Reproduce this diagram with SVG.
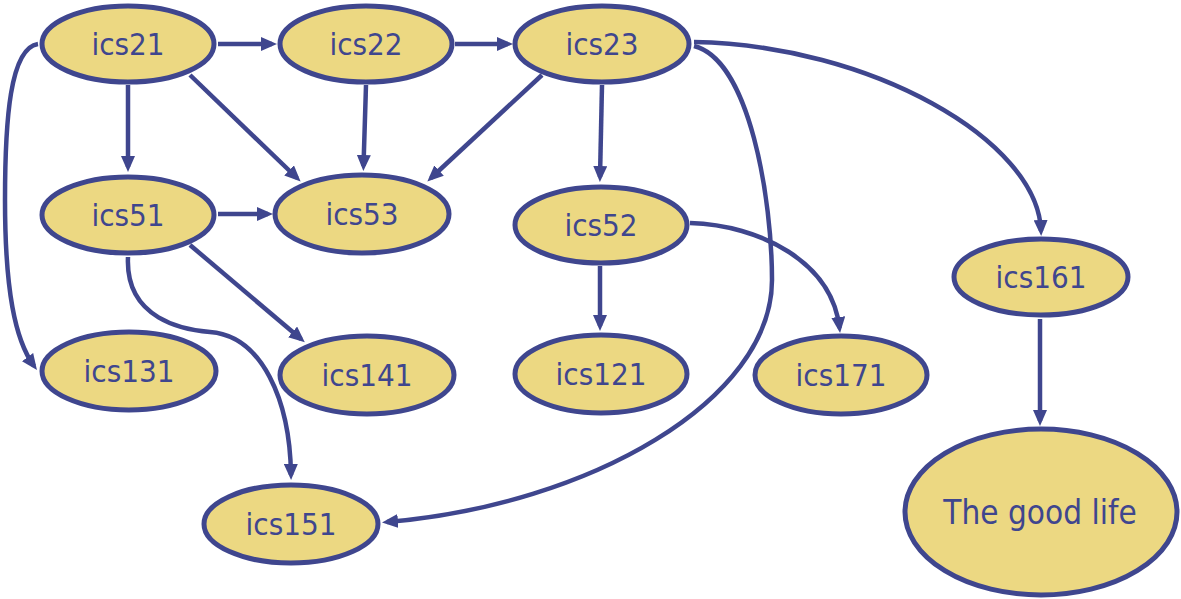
<svg xmlns="http://www.w3.org/2000/svg" width="1181" height="599" viewBox="0 0 1181 599">
<style>
.n ellipse{fill:#ECD882;stroke:#3F468E;stroke-width:5}
.n text{font-family:"DejaVu Sans Condensed","DejaVu Sans",sans-serif;font-size:31px;fill:#3F468E;text-anchor:middle}
.e path{fill:none;stroke:#3F468E;stroke-width:4.5;marker-end:url(#ah)}
</style>
<defs>
<marker id="ah" viewBox="0 0 16 14" refX="11" refY="7" markerWidth="16" markerHeight="14" markerUnits="userSpaceOnUse" orient="auto">
<path d="M0,0 L16,7 L0,14 z" fill="#3F468E"/>
</marker>
</defs>
<rect width="1181" height="599" fill="#fff"/>
<g id="connectors" class="e">
<path d="M218,44 L272,44"/>
<path d="M455,44 L508,44"/>
<path d="M128,85 L128,167"/>
<path d="M190,75 L297,178"/>
<path d="M366,85 L363.5,166"/>
<path d="M542,75 L431,178"/>
<path d="M218,214 L268,214"/>
<path d="M602,85 L600,177"/>
<path d="M694,42 C870,45 1038,140 1041,231"/>
<path d="M694,46 C750,60 772,200 772,280 C772,400 590,505 387,522"/>
<path d="M600,266 L600,326"/>
<path d="M690,223 C760,225 832,262 839.5,328"/>
<path d="M190,245 L301,339"/>
<path d="M128,257 C125,320 185,330 210,332 C262,336 290,400 291,475"/>
<path d="M38,44 C10,48 5,120 5,200 C5,290 15,340 34,366"/>
<path d="M1040,319 L1040,421"/>
</g>
<g id="ics21" class="n"><ellipse cx="128" cy="44" rx="86" ry="38"/><text x="128" y="55">ics21</text></g>
<g id="ics22" class="n"><ellipse cx="366" cy="44" rx="86" ry="38"/><text x="366" y="55">ics22</text></g>
<g id="ics23" class="n"><ellipse cx="602" cy="44" rx="87" ry="38"/><text x="602" y="55">ics23</text></g>
<g id="ics51" class="n"><ellipse cx="128" cy="215" rx="86" ry="38"/><text x="128" y="226">ics51</text></g>
<g id="ics53" class="n"><ellipse cx="362" cy="214" rx="87" ry="39"/><text x="362" y="225">ics53</text></g>
<g id="ics52" class="n"><ellipse cx="601" cy="225" rx="86" ry="38"/><text x="601" y="236">ics52</text></g>
<g id="ics161" class="n"><ellipse cx="1041" cy="277" rx="87" ry="38"/><text x="1041" y="288">ics161</text></g>
<g id="ics131" class="n"><ellipse cx="129" cy="371" rx="87" ry="39"/><text x="129" y="382">ics131</text></g>
<g id="ics141" class="n"><ellipse cx="367" cy="375" rx="87" ry="39"/><text x="367" y="386">ics141</text></g>
<g id="ics121" class="n"><ellipse cx="601" cy="374" rx="86" ry="39"/><text x="601" y="385">ics121</text></g>
<g id="ics171" class="n"><ellipse cx="841" cy="375" rx="86" ry="39"/><text x="841" y="386">ics171</text></g>
<g id="ics151" class="n"><ellipse cx="291" cy="524" rx="87" ry="39"/><text x="291" y="535">ics151</text></g>
<g id="goodlife" class="n"><ellipse cx="1041" cy="512" rx="136" ry="83"/><text x="1040" y="524" style="font-size:33px">The good life</text></g>
</svg>
